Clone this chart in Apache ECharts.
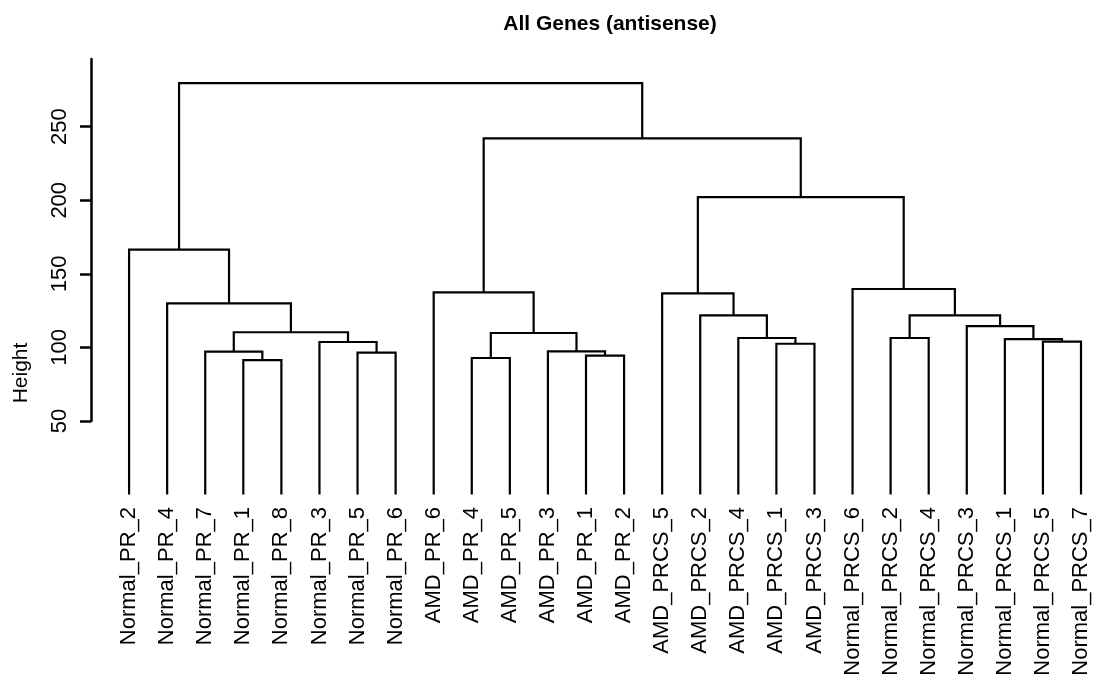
<!DOCTYPE html>
<html>
<head>
<meta charset="utf-8">
<script src="https://cdn.jsdelivr.net/npm/echarts@6/dist/echarts.min.js"></script>
<style>
  html, body { margin: 0; padding: 0; background: #fff; }
  #chart { width: 1093px; height: 683px; }
</style>
</head>
<body>
<div id="chart"></div>
<script>
// leaves in plotting order (1-based index = x position)
var leafLabels = [
  "Normal_PR_2", "Normal_PR_4", "Normal_PR_7", "Normal_PR_1", "Normal_PR_8",
  "Normal_PR_3", "Normal_PR_5", "Normal_PR_6", "AMD_PR_6", "AMD_PR_4",
  "AMD_PR_5", "AMD_PR_3", "AMD_PR_1", "AMD_PR_2", "AMD_PRCS_5",
  "AMD_PRCS_2", "AMD_PRCS_4", "AMD_PRCS_1", "AMD_PRCS_3", "Normal_PRCS_6",
  "Normal_PRCS_2", "Normal_PRCS_4", "Normal_PRCS_3", "Normal_PRCS_1",
  "Normal_PRCS_5", "Normal_PRCS_7"
];
// hclust style merge table: negative = leaf, positive = earlier merge step
var mergeLeft  = [-4, -13, -10, -7, -3, -12, -18, -6, -25, -24, -17, -21, 5, 3, -23, -16, 12, -2, -15, -9, -20, -1, 19, 20, 22];
var mergeRight = [-5, -14, -11, -8, 1, 2, -19, 4, -26, 9, 7, -22, 8, 6, 10, 11, 15, 13, 16, 14, 17, 18, 21, 23, 24];
var mergeHeight = [91.4, 94.4, 92.8, 96.4, 97.1, 97.3, 102.5, 103.7, 103.9, 105.7, 106.4, 106.4,
  110.3, 109.8, 114.5, 121.8, 121.8, 130.0, 136.7, 137.4, 139.7, 166.4, 202.2, 242.0, 279.6];
var yTicks = [50, 100, 150, 200, 250];

var FONT = "Liberation Sans, Arial, Helvetica, sans-serif";

// node position in data space: x = mean of child x, y = merge height (leaf -> 0)
var mergeX = [];
function nodeX(ref) { return ref < 0 ? -ref : mergeX[ref - 1]; }
function nodeY(ref) { return ref < 0 ? 0 : mergeHeight[ref - 1]; }
var segData = [];
for (var i = 0; i < mergeHeight.length; i++) {
  var xl = nodeX(mergeLeft[i]), xr = nodeX(mergeRight[i]);
  mergeX.push((xl + xr) / 2);
  segData.push([xl, xr, nodeY(mergeLeft[i]), nodeY(mergeRight[i]), mergeHeight[i]]);
}

var chart = echarts.init(document.getElementById("chart"), null, { renderer: "canvas" });
var option = {
  animation: false,
  backgroundColor: "#fff",
  title: {
    text: "All Genes (antisense)",
    left: 605,
    top: 9,
    textAlign: "center",
    textStyle: { fontFamily: FONT, fontSize: 21, fontWeight: "bold", color: "#000" }
  },
  grid: { left: 91, right: 12, top: 59, bottom: 262 },
  xAxis: {
    type: "value",
    min: 0,
    max: leafLabels.length,
    interval: 1,
    axisLine: { show: false },
    axisTick: { show: false },
    splitLine: { show: false },
    axisLabel: {
      rotate: 90,
      margin: 86,
      fontFamily: FONT,
      fontSize: 22,
      color: "#000",
      formatter: function (v) { return leafLabels[v - 1] || ""; }
    }
  },
  yAxis: {
    type: "value",
    min: 50,
    max: 296,
    interval: 50,
    axisLine: { show: true, lineStyle: { color: "#000", width: 2.5 } },
    axisTick: { show: true, length: 11, customValues: yTicks, lineStyle: { color: "#000", width: 2.5 } },
    splitLine: { show: false },
    axisLabel: {
      rotate: 90,
      margin: 20,
      customValues: yTicks,
      fontFamily: FONT,
      fontSize: 22,
      color: "#000"
    }
  },
  graphic: [{
    type: "text",
    x: 21,
    y: 373,
    rotation: Math.PI / 2,
    style: { text: "Height", fontFamily: FONT, fontSize: 21, fill: "#000", align: "center", verticalAlign: "middle" }
  }],
  series: [{
    type: "custom",
    clip: false,
    data: segData,
    renderItem: function (params, api) {
      var xl = api.value(0), xr = api.value(1);
      var pl = api.coord([xl, api.value(2)]);
      var tl = api.coord([xl, api.value(4)]);
      var tr = api.coord([xr, api.value(4)]);
      var pr = api.coord([xr, api.value(3)]);
      return {
        type: "polyline",
        shape: { points: [pl, tl, tr, pr] },
        style: { stroke: "#000", lineWidth: 2.2, fill: null }
      };
    }
  }]
};
chart.setOption(option);
</script>
</body>
</html>
